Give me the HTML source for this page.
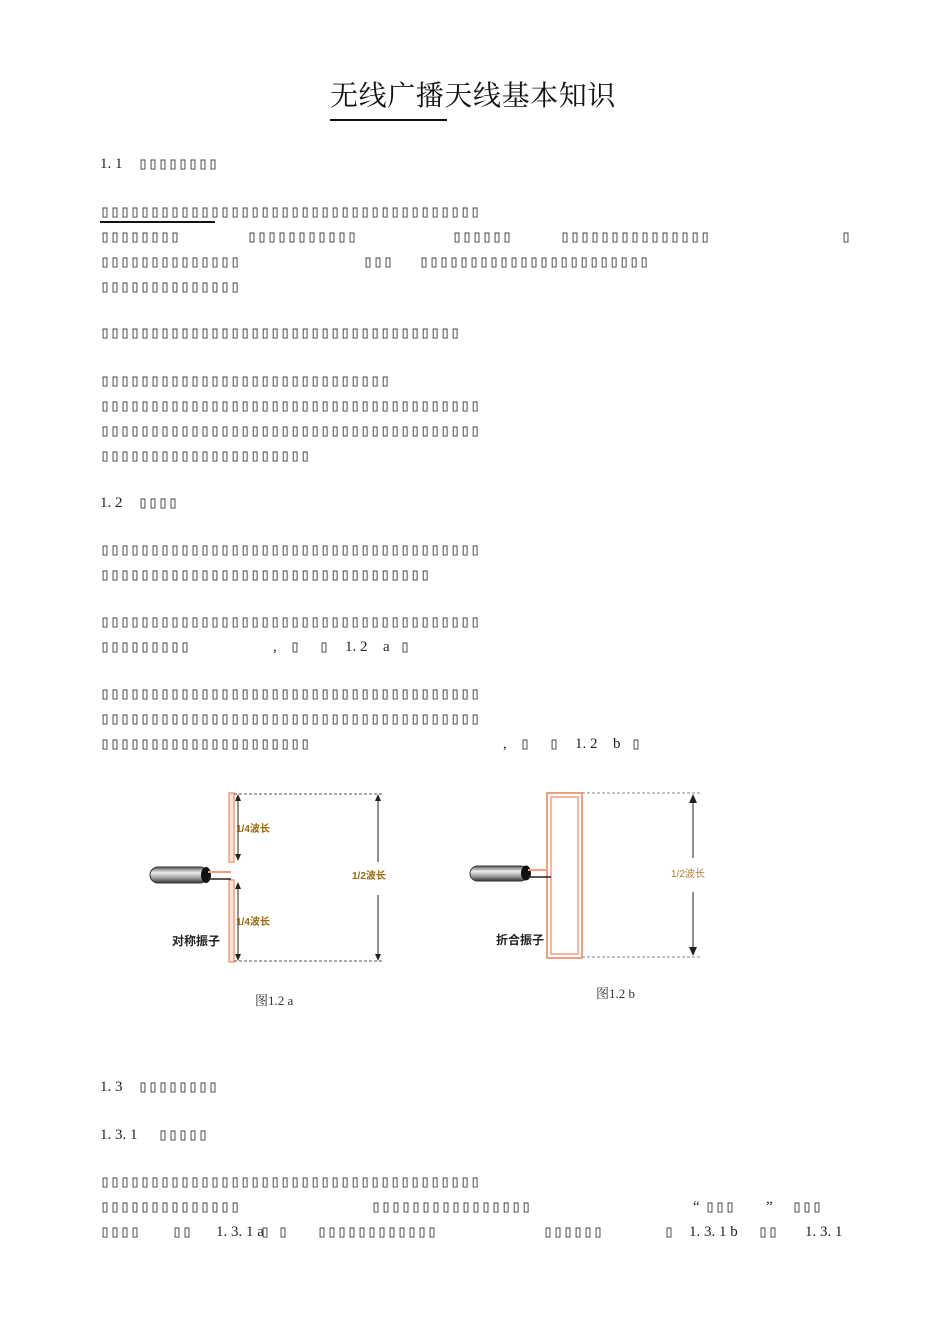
<!DOCTYPE html>
<html><head><meta charset="utf-8">
<style>
html,body{margin:0;padding:0;background:#fff;}
#pg{position:relative;width:950px;height:1344px;overflow:hidden;background:#fff;}
.t{position:absolute;white-space:pre;font-family:"Liberation Serif","Noto Serif CJK SC",serif;font-size:15px;color:#222;line-height:16px;}
.b{position:absolute;white-space:pre;font-family:"DejaVu Sans Mono",monospace;font-size:17px;letter-spacing:-0.23px;color:#444;line-height:16px;}
#title{position:absolute;left:330px;top:80px;font-family:"Liberation Serif","Noto Serif CJK SC",serif;font-size:28px;letter-spacing:0.6px;color:#111;line-height:34px;white-space:pre;}
</style></head><body><div id="pg">
<div id="title">无线广播天线基本知识</div>
<div style="position:absolute;left:330px;top:119px;width:117px;height:2px;background:#111"></div>

<div class="t" style="left:100px;top:156px">1. 1</div><div class="b" style="left:138px;top:156px">▯▯▯▯▯▯▯▯</div>

<div class="b" style="left:100px;top:204px">▯▯▯▯▯▯▯▯▯▯▯▯▯▯▯▯▯▯▯▯▯▯▯▯▯▯▯▯▯▯▯▯▯▯▯▯▯▯</div>
<div style="position:absolute;left:100px;top:221px;width:115px;height:1.5px;background:#111"></div>
<div class="b" style="left:100px;top:229px">▯▯▯▯▯▯▯▯</div><div class="b" style="left:247px;top:229px">▯▯▯▯▯▯▯▯▯▯▯</div><div class="b" style="left:452px;top:229px">▯▯▯▯▯▯</div><div class="b" style="left:560px;top:229px">▯▯▯▯▯▯▯▯▯▯▯▯▯▯▯</div><div class="b" style="left:841px;top:229px">▯</div>
<div class="b" style="left:100px;top:254px">▯▯▯▯▯▯▯▯▯▯▯▯▯▯</div><div class="b" style="left:363px;top:254px">▯▯▯</div><div class="b" style="left:419px;top:254px">▯▯▯▯▯▯▯▯▯▯▯▯▯▯▯▯▯▯▯▯▯▯▯</div>
<div class="b" style="left:100px;top:279px">▯▯▯▯▯▯▯▯▯▯▯▯▯▯</div>

<div class="b" style="left:100px;top:325px">▯▯▯▯▯▯▯▯▯▯▯▯▯▯▯▯▯▯▯▯▯▯▯▯▯▯▯▯▯▯▯▯▯▯▯▯</div>

<div class="b" style="left:100px;top:373px">▯▯▯▯▯▯▯▯▯▯▯▯▯▯▯▯▯▯▯▯▯▯▯▯▯▯▯▯▯</div>
<div class="b" style="left:100px;top:398px">▯▯▯▯▯▯▯▯▯▯▯▯▯▯▯▯▯▯▯▯▯▯▯▯▯▯▯▯▯▯▯▯▯▯▯▯▯▯</div>
<div class="b" style="left:100px;top:423px">▯▯▯▯▯▯▯▯▯▯▯▯▯▯▯▯▯▯▯▯▯▯▯▯▯▯▯▯▯▯▯▯▯▯▯▯▯▯</div>
<div class="b" style="left:100px;top:448px">▯▯▯▯▯▯▯▯▯▯▯▯▯▯▯▯▯▯▯▯▯</div>

<div class="t" style="left:100px;top:495px">1. 2</div><div class="b" style="left:138px;top:495px">▯▯▯▯</div>

<div class="b" style="left:100px;top:542px">▯▯▯▯▯▯▯▯▯▯▯▯▯▯▯▯▯▯▯▯▯▯▯▯▯▯▯▯▯▯▯▯▯▯▯▯▯▯</div>
<div class="b" style="left:100px;top:567px">▯▯▯▯▯▯▯▯▯▯▯▯▯▯▯▯▯▯▯▯▯▯▯▯▯▯▯▯▯▯▯▯▯</div>

<div class="b" style="left:100px;top:614px">▯▯▯▯▯▯▯▯▯▯▯▯▯▯▯▯▯▯▯▯▯▯▯▯▯▯▯▯▯▯▯▯▯▯▯▯▯▯</div>
<div class="b" style="left:100px;top:639px">▯▯▯▯▯▯▯▯▯</div>
<div class="t" style="left:273px;top:639px">,</div><div class="b" style="left:290px;top:639px">▯</div><div class="b" style="left:319px;top:639px">▯</div><div class="t" style="left:345px;top:639px">1. 2</div><div class="t" style="left:383px;top:639px">a</div><div class="b" style="left:400px;top:639px">▯</div>

<div class="b" style="left:100px;top:686px">▯▯▯▯▯▯▯▯▯▯▯▯▯▯▯▯▯▯▯▯▯▯▯▯▯▯▯▯▯▯▯▯▯▯▯▯▯▯</div>
<div class="b" style="left:100px;top:711px">▯▯▯▯▯▯▯▯▯▯▯▯▯▯▯▯▯▯▯▯▯▯▯▯▯▯▯▯▯▯▯▯▯▯▯▯▯▯</div>
<div class="b" style="left:100px;top:736px">▯▯▯▯▯▯▯▯▯▯▯▯▯▯▯▯▯▯▯▯▯</div>
<div class="t" style="left:503px;top:736px">,</div><div class="b" style="left:520px;top:736px">▯</div><div class="b" style="left:549px;top:736px">▯</div><div class="t" style="left:575px;top:736px">1. 2</div><div class="t" style="left:613px;top:736px">b</div><div class="b" style="left:631px;top:736px">▯</div>

<svg style="position:absolute;left:0;top:0" width="950" height="1344">
<defs>
<linearGradient id="cab" x1="0" y1="0" x2="0" y2="1"><stop offset="0" stop-color="#555"/><stop offset="0.35" stop-color="#eee"/><stop offset="0.7" stop-color="#999"/><stop offset="1" stop-color="#333"/></linearGradient>
</defs>
<rect x="229" y="793" width="5" height="69" fill="#fde3d8" stroke="#f0a080" stroke-width="1.5"/>
<rect x="229" y="880" width="5" height="82" fill="#fde3d8" stroke="#f0a080" stroke-width="1.5"/>
<rect x="150" y="867" width="58" height="16" rx="8" fill="url(#cab)" stroke="#333"/>
<ellipse cx="206" cy="875" rx="5" ry="8" fill="#111"/>
<line x1="208" y1="872" x2="231" y2="872" stroke="#f0a080" stroke-width="2"/>
<line x1="208" y1="879" x2="231" y2="879" stroke="#222" stroke-width="1.5"/>
<line x1="234" y1="794" x2="383" y2="794" stroke="#555" stroke-dasharray="3,2"/>
<line x1="234" y1="961" x2="383" y2="961" stroke="#555" stroke-dasharray="3,2"/>
<line x1="238" y1="797" x2="238" y2="858" stroke="#222"/>
<polygon points="238,794 235,801 241,801" fill="#222"/><polygon points="238,861 235,854 241,854" fill="#222"/>
<line x1="238" y1="885" x2="238" y2="958" stroke="#222"/>
<polygon points="238,882 235,889 241,889" fill="#222"/><polygon points="238,961 235,954 241,954" fill="#222"/>
<line x1="378" y1="797" x2="378" y2="862" stroke="#222"/>
<line x1="378" y1="895" x2="378" y2="958" stroke="#222"/>
<polygon points="378,794 375,801 381,801" fill="#222"/><polygon points="378,961 375,954 381,954" fill="#222"/>
<text x="236" y="832" font-family="Liberation Sans,Noto Sans CJK SC,sans-serif" font-size="10" font-weight="bold" fill="#9a6a10">1/4波长</text>
<text x="236" y="925" font-family="Liberation Sans,Noto Sans CJK SC,sans-serif" font-size="10" font-weight="bold" fill="#9a6a10">1/4波长</text>
<text x="352" y="879" font-family="Liberation Sans,Noto Sans CJK SC,sans-serif" font-size="10" font-weight="bold" fill="#9a6a10">1/2波长</text>
<text x="172" y="945" font-family="Noto Sans CJK SC,sans-serif" font-size="12" font-weight="bold" fill="#222">对称振子</text>
<text x="255" y="1005" font-family="Liberation Serif,Noto Serif CJK SC,serif" font-size="13" fill="#333">图1.2 a</text>
<rect x="547" y="793" width="35" height="165" fill="none" stroke="#f0a080" stroke-width="2"/>
<rect x="551" y="797" width="27" height="157" fill="none" stroke="#f0a080" stroke-width="1.5"/>
<rect x="470" y="866" width="58" height="15" rx="7.5" fill="url(#cab)" stroke="#333"/>
<ellipse cx="526" cy="873" rx="5" ry="7.5" fill="#111"/>
<line x1="528" y1="870" x2="548" y2="870" stroke="#f0a080" stroke-width="2"/>
<line x1="528" y1="877" x2="551" y2="877" stroke="#222" stroke-width="1.5"/>
<line x1="582" y1="793" x2="700" y2="793" stroke="#888" stroke-dasharray="3,2"/>
<line x1="582" y1="957" x2="700" y2="957" stroke="#888" stroke-dasharray="3,2"/>
<line x1="693" y1="797" x2="693" y2="858" stroke="#222"/>
<line x1="693" y1="892" x2="693" y2="953" stroke="#222"/>
<polygon points="693,794 689,803 697,803" fill="#222"/><polygon points="693,956 689,947 697,947" fill="#222"/>
<text x="671" y="877" font-family="Liberation Sans,Noto Sans CJK SC,sans-serif" font-size="10" fill="#b08030">1/2波长</text>
<text x="496" y="944" font-family="Noto Sans CJK SC,sans-serif" font-size="12" font-weight="bold" fill="#222">折合振子</text>
<text x="596" y="998" font-family="Liberation Serif,Noto Serif CJK SC,serif" font-size="13" fill="#333">图1.2 b</text>
</svg>

<div class="t" style="left:100px;top:1079px">1. 3</div><div class="b" style="left:138px;top:1079px">▯▯▯▯▯▯▯▯</div>
<div class="t" style="left:100px;top:1127px">1. 3. 1</div><div class="b" style="left:158px;top:1127px">▯▯▯▯▯</div>

<div class="b" style="left:100px;top:1174px">▯▯▯▯▯▯▯▯▯▯▯▯▯▯▯▯▯▯▯▯▯▯▯▯▯▯▯▯▯▯▯▯▯▯▯▯▯▯</div>
<div class="b" style="left:100px;top:1199px">▯▯▯▯▯▯▯▯▯▯▯▯▯▯</div><div class="b" style="left:371px;top:1199px">▯▯▯▯▯▯▯▯▯▯▯▯▯▯▯▯</div>
<div class="t" style="left:693px;top:1199px">“</div><div class="b" style="left:705px;top:1199px">▯▯▯</div><div class="t" style="left:766px;top:1199px">”</div><div class="b" style="left:792px;top:1199px">▯▯▯</div>
<div class="b" style="left:100px;top:1224px">▯▯▯▯</div><div class="b" style="left:172px;top:1224px">▯▯</div>
<div class="t" style="left:216px;top:1224px">1. 3. 1 a</div><div class="b" style="left:260px;top:1224px">▯</div><div class="b" style="left:278px;top:1224px">▯</div>
<div class="b" style="left:317px;top:1224px">▯▯▯▯▯▯▯▯▯▯▯▯</div><div class="b" style="left:543px;top:1224px">▯▯▯▯▯▯</div>
<div class="b" style="left:664px;top:1224px">▯</div><div class="t" style="left:689px;top:1224px">1. 3. 1 b</div><div class="b" style="left:758px;top:1224px">▯▯</div><div class="t" style="left:805px;top:1224px">1. 3. 1</div>
</div></body></html>
